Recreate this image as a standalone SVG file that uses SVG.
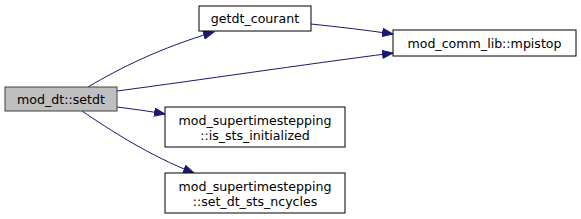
<svg xmlns="http://www.w3.org/2000/svg" width="581" height="219" viewBox="0 0 581 219">
<defs>
<marker id="arr" markerWidth="12" markerHeight="9" refX="11" refY="4.5" orient="auto" markerUnits="userSpaceOnUse">
<path d="M0.5,0.5 L11,4.5 L0.5,8.5 Z" fill="#191970" stroke="#191970"/>
</marker>
<style>
.node rect{fill:#ffffff;stroke:#000000;stroke-width:1}
.node.cur rect{fill:#bfbfbf;stroke:#404040}
.node text{font-family:"DejaVu Sans",sans-serif;font-size:12.6px;fill:#000000;text-anchor:middle}
.edges path{fill:none;stroke:#191970;stroke-width:1;marker-end:url(#arr)}
</style>
</defs>
<rect width="581" height="219" fill="#ffffff"/>
<g class="edges">
<path d="M88,87 C120,68 160,48 214,32"/>
<path d="M311,24 C340,27 365,30 393,34"/>
<path d="M117,91 C200,80 300,65 393,53"/>
<path d="M117,107 C133,109 148,111 165,114"/>
<path d="M82,111 C110,130 150,156 194,173"/>
</g>
<g id="setdt" class="node cur">
<rect x="5" y="87" width="112" height="24"/>
<text x="61" y="103.5">mod_dt::setdt</text>
</g>
<g id="getdt_courant" class="node">
<rect x="199" y="6" width="112" height="25"/>
<text x="255" y="23">getdt_courant</text>
</g>
<g id="mpistop" class="node">
<rect x="393" y="30" width="183" height="26"/>
<text x="484.5" y="47.5">mod_comm_lib::mpistop</text>
</g>
<g id="is_sts_initialized" class="node">
<rect x="165" y="107" width="180" height="40"/>
<text x="255" y="124.5">mod_supertimestepping</text>
<text x="255" y="139.5">::is_sts_initialized</text>
</g>
<g id="set_dt_sts_ncycles" class="node">
<rect x="165" y="173" width="180" height="40"/>
<text x="255" y="190.5">mod_supertimestepping</text>
<text x="255" y="205.5">::set_dt_sts_ncycles</text>
</g>
</svg>
